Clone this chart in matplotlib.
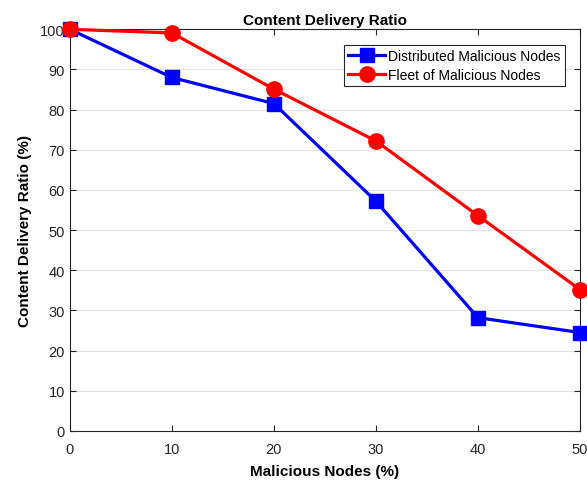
import matplotlib
matplotlib.use("Agg")
import matplotlib.pyplot as plt

plt.rcParams["font.family"] = ["Liberation Sans", "DejaVu Sans"]

malicious_pct = [0, 10, 20, 30, 40, 50]
distributed = [100, 88.0, 81.5, 57.2, 28.2, 24.5]
fleet = [100, 99.1, 85.1, 72.2, 53.6, 35.2]

fig = plt.figure(figsize=(5.87, 4.81), dpi=100)
ax = fig.add_axes([0.119, 0.102, 0.869, 0.835])

ax.plot(malicious_pct, distributed, color="#0000ff", lw=2.3, marker="s",
        markersize=10, label="Distributed Malicious Nodes", clip_on=False, zorder=3)
ax.plot(malicious_pct, fleet, color="#ff0000", lw=2.3, marker="o",
        markersize=11, label="Fleet of Malicious Nodes", clip_on=False, zorder=3)

ax.set_xlim(0, 50)
ax.set_ylim(0, 100)
ax.set_xticks(range(0, 51, 10))
ax.set_yticks(range(0, 101, 10))
ax.yaxis.grid(True, color="#e3e3e3", lw=0.8)
ax.set_axisbelow(True)

dark = "#262626"
for s in ax.spines.values():
    s.set_color(dark)
    s.set_linewidth(0.8)
ax.tick_params(direction="in", top=True, right=True, colors=dark,
               labelsize=10.5, length=4, width=0.8)
ax.tick_params(axis="x", pad=8)

ax.set_title("Content Delivery Ratio", fontsize=11, fontweight="bold", pad=4)
ax.set_xlabel("Malicious Nodes (%)", fontsize=11, fontweight="bold", labelpad=6)
ax.set_ylabel("Content Delivery Ratio (%)", fontsize=11, fontweight="bold", labelpad=6)

leg = ax.legend(loc="upper right", fontsize=10, fancybox=False, framealpha=1,
                edgecolor=dark, borderaxespad=1.1, handlelength=2.7,
                borderpad=0.3, labelspacing=0.35, handletextpad=0.2)
leg.get_frame().set_linewidth(0.8)

fig.savefig("out.png", dpi=100)
